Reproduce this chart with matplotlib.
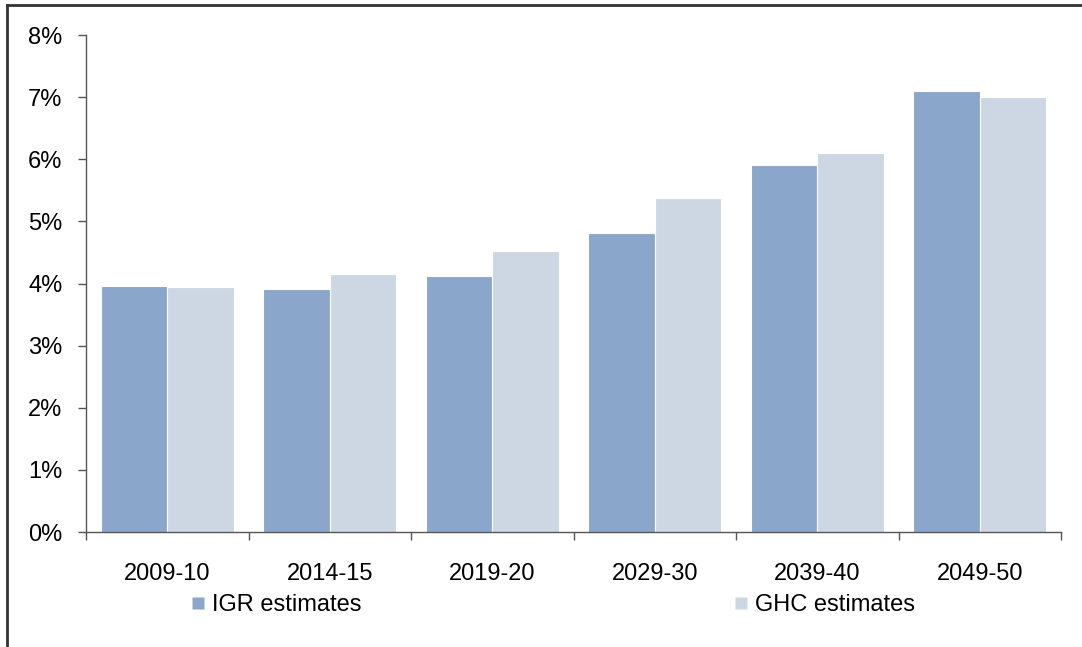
import numpy as np
import matplotlib.pyplot as plt
from matplotlib.lines import Line2D
from matplotlib.ticker import FuncFormatter

plt.rcParams['font.family'] = ['Liberation Sans', 'DejaVu Sans']

years = ['2009-10', '2014-15', '2019-20', '2029-30', '2039-40', '2049-50']
igr_estimates = [3.96, 3.91, 4.12, 4.81, 5.91, 7.10]
ghc_estimates = [3.95, 4.15, 4.53, 5.37, 6.10, 7.01]

igr_color = '#8AA6CB'
ghc_color = '#CDD7E3'

fig = plt.figure(figsize=(10.82, 6.47), dpi=100)
ax = fig.add_axes([0.0795, 0.1777, 0.9011, 0.7682])

x = np.arange(len(years))
width = 0.41
ax.bar(x - width / 2, igr_estimates, width, color=igr_color,
       edgecolor='white', linewidth=0.8, label='IGR estimates')
ax.bar(x + width / 2, ghc_estimates, width, color=ghc_color,
       edgecolor='white', linewidth=0.8, label='GHC estimates')

ax.set_xlim(-0.5, len(years) - 0.5)
ax.set_ylim(0, 8)
ax.set_yticks(range(0, 9))
ax.yaxis.set_major_formatter(FuncFormatter(lambda v, _: f'{v:.0f}%'))

# category labels centred, tick marks on the group boundaries
ax.set_xticks(x)
ax.set_xticklabels(years)
ax.set_xticks(np.arange(-0.5, len(years)), minor=True)
ax.tick_params(axis='x', which='major', length=0, pad=22, labelsize=17)
ax.tick_params(axis='x', which='minor', length=6, width=1, color='#555555')
ax.tick_params(axis='y', length=6, width=1, color='#555555', pad=11,
               labelsize=17)

for side in ['top', 'right']:
    ax.spines[side].set_visible(False)
for side in ['left', 'bottom']:
    ax.spines[side].set_color('#555555')
    ax.spines[side].set_linewidth(1)

# legend entries laid out under the axis
handles = [
    Line2D([], [], marker='s', linestyle='none', markersize=8.5,
           markerfacecolor=igr_color, markeredgecolor='none'),
    Line2D([], [], marker='s', linestyle='none', markersize=8.5,
           markerfacecolor=ghc_color, markeredgecolor='none'),
]
leg = fig.legend(handles, ['IGR estimates', 'GHC estimates'],
                 loc='center', bbox_to_anchor=(0.511, 0.065), ncol=2,
                 frameon=False, fontsize=17, handlelength=0.6,
                 handletextpad=0.3, columnspacing=15.75)

# outer frame: left and top edges
fig.add_artist(Line2D([0.0069, 0.0069], [0, 0.992], color='#333333',
                      linewidth=2, transform=fig.transFigure))
fig.add_artist(Line2D([0.0069, 1.0], [0.992, 0.992], color='#333333',
                      linewidth=2, transform=fig.transFigure))

fig.savefig('out.png', dpi=100)
